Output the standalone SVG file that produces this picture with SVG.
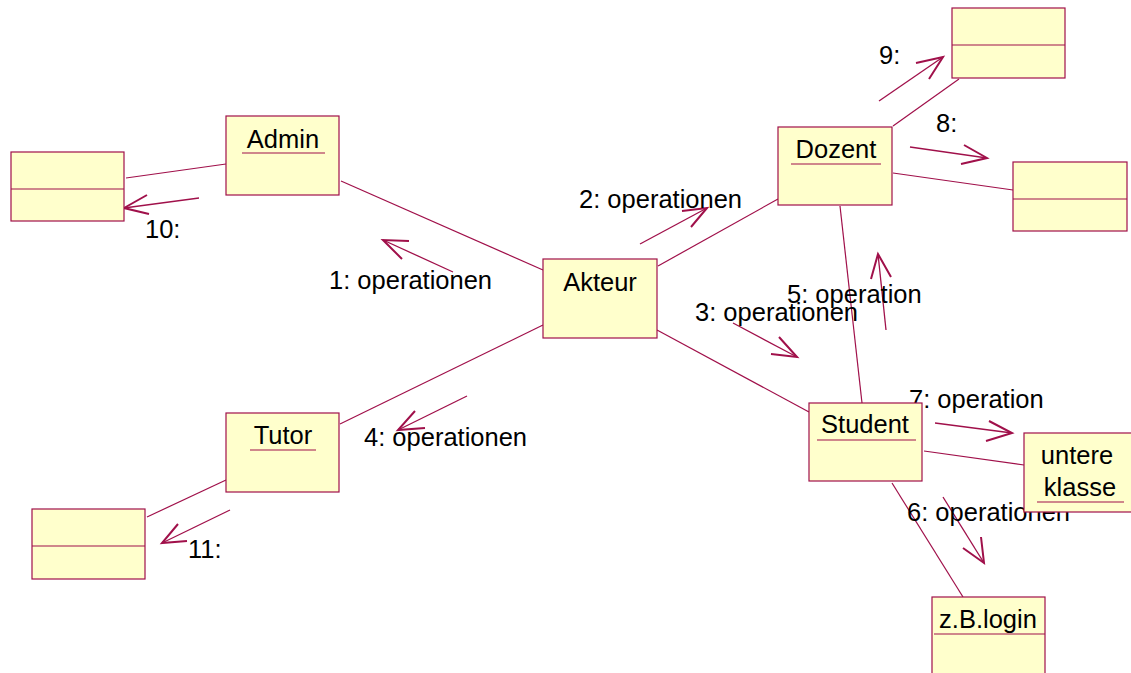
<svg xmlns="http://www.w3.org/2000/svg" width="1131" height="673" viewBox="0 0 1131 673">
<style>
.box{fill:#FFFFCC;stroke:#A0104A;stroke-width:1.2}
.div{stroke:#A0104A;stroke-width:1.2}
.ul{stroke:#A0104A;stroke-width:1.2}
.link{stroke:#A0104A;stroke-width:1.2;fill:none}
.msg{stroke:#A0104A;stroke-width:1.3;fill:none}
.head{stroke:#A0104A;stroke-width:2;fill:none;stroke-linejoin:miter}
text{font-family:"Liberation Sans",Arial,sans-serif;font-size:25.5px;fill:#000}
.c{text-anchor:middle}
</style>
<rect width="1131" height="673" fill="#FFFFFF"/>
<g id="connectors">
<line class="link" x1="341" y1="181" x2="543" y2="270"/>
<line class="link" x1="543" y1="325" x2="340" y2="424"/>
<line class="link" x1="658" y1="266" x2="778" y2="199"/>
<line class="link" x1="657" y1="330" x2="809" y2="412"/>
<line class="link" x1="840" y1="206" x2="862" y2="403"/>
<line class="link" x1="893" y1="126" x2="959" y2="79"/>
<line class="link" x1="893" y1="173" x2="1013" y2="190"/>
<line class="link" x1="924" y1="451" x2="1024" y2="465"/>
<line class="link" x1="892" y1="483" x2="963" y2="597"/>
<line class="link" x1="126" y1="178" x2="226" y2="164"/>
<line class="link" x1="226" y1="480" x2="147" y2="517"/>
<line class="msg" x1="453" y1="272" x2="383" y2="240"/>
<polyline class="head" points="409,241 383,240 402,259"/>
<line class="msg" x1="640" y1="244" x2="707" y2="208"/>
<polyline class="head" points="682,211 707,208 691,227"/>
<line class="msg" x1="733" y1="323" x2="797" y2="357"/>
<polyline class="head" points="779,337 797,357 771,354"/>
<line class="msg" x1="467" y1="396" x2="398" y2="430"/>
<polyline class="head" points="415,411 398,430 425,428"/>
<line class="msg" x1="886" y1="330" x2="878" y2="254"/>
<polyline class="head" points="871,279 878,254 891,277"/>
<line class="msg" x1="943" y1="497" x2="984" y2="563"/>
<polyline class="head" points="963,548 984,563 981,537"/>
<line class="msg" x1="935" y1="423" x2="1012" y2="433"/>
<polyline class="head" points="989,421 1012,433 986,441"/>
<line class="msg" x1="910" y1="147" x2="987" y2="158"/>
<polyline class="head" points="964,145 987,158 961,164"/>
<line class="msg" x1="879" y1="101" x2="943" y2="57"/>
<polyline class="head" points="916,63 943,57 929,79"/>
<line class="msg" x1="199" y1="198" x2="124" y2="208"/>
<polyline class="head" points="147,195 124,208 149,214"/>
<line class="msg" x1="230" y1="510" x2="162" y2="543"/>
<polyline class="head" points="178,524 162,543 187,541"/>
</g>
<g id="labels">
<text x="329" y="289">1: operationen</text>
<text x="579" y="208">2: operationen</text>
<text x="695" y="321">3: operationen</text>
<text x="364" y="446">4: operationen</text>
<text x="787" y="303">5: operation</text>
<text x="907" y="521">6: operationen</text>
<text x="909" y="408">7: operation</text>
<text x="936" y="132">8:</text>
<text x="879" y="64">9:</text>
<text x="145" y="238">10:</text>
<text x="188" y="558">11:</text>
</g>
<g id="akteur">
<rect class="box" x="543" y="259" width="114" height="79"/>
<text class="c" x="600" y="291">Akteur</text>
</g>
<g id="admin">
<rect class="box" x="226" y="116" width="113" height="79"/>
<text class="c" x="283" y="148">Admin</text>
<line class="ul" x1="242" y1="153" x2="325" y2="153"/>
</g>
<g id="tutor">
<rect class="box" x="226" y="413" width="113" height="79"/>
<text class="c" x="283" y="444">Tutor</text>
<line class="ul" x1="250" y1="450" x2="316" y2="450"/>
</g>
<g id="dozent">
<rect class="box" x="778" y="127" width="114" height="78"/>
<text class="c" x="836" y="158">Dozent</text>
<line class="ul" x1="791" y1="164" x2="881" y2="164"/>
</g>
<g id="student">
<rect class="box" x="809" y="403" width="113" height="78"/>
<text class="c" x="865" y="433">Student</text>
<line class="ul" x1="817" y1="440" x2="916" y2="440"/>
</g>
<g id="untere-klasse">
<rect class="box" x="1024" y="433" width="113" height="79"/>
<text class="c" x="1077" y="464">untere</text>
<text class="c" x="1080" y="496">klasse</text>
<line class="ul" x1="1037" y1="502" x2="1124" y2="502"/>
</g>
<g id="login">
<rect class="box" x="932" y="597" width="113" height="90"/>
<text class="c" x="988" y="628">z.B.login</text>
<line class="ul" x1="934" y1="634" x2="1045" y2="634"/>
</g>
<g id="obj9">
<rect class="box" x="952" y="8" width="113" height="70"/>
<line class="div" x1="952" y1="45" x2="1065" y2="45"/>
</g>
<g id="obj8">
<rect class="box" x="1013" y="162" width="114" height="69"/>
<line class="div" x1="1013" y1="199" x2="1127" y2="199"/>
</g>
<g id="obj10">
<rect class="box" x="11" y="152" width="113" height="69"/>
<line class="div" x1="11" y1="189" x2="124" y2="189"/>
</g>
<g id="obj11">
<rect class="box" x="32" y="509" width="113" height="70"/>
<line class="div" x1="32" y1="546" x2="145" y2="546"/>
</g>
</svg>
